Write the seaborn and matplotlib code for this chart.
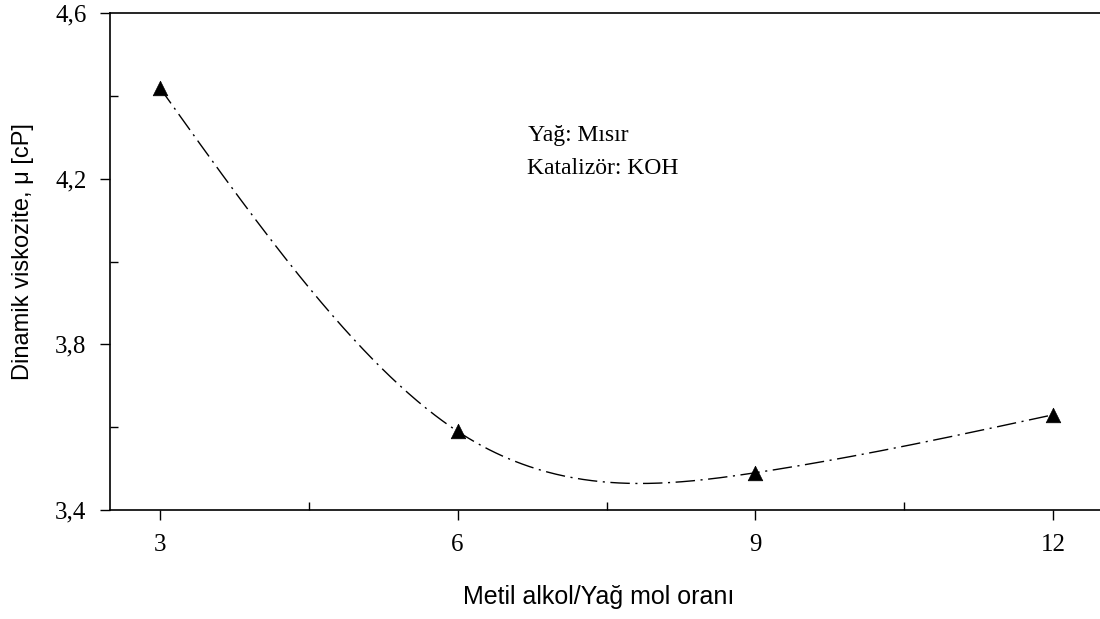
import numpy as np
import pandas as pd
import seaborn as sns
import matplotlib
matplotlib.use("Agg")
import matplotlib.pyplot as plt
from matplotlib.transforms import IdentityTransform
from matplotlib.ticker import FixedLocator, FuncFormatter

# Molar ratio (methanol / oil) and measured dynamic viscosity
molar_ratio = [3, 6, 9, 12]
viscosity_cp = [4.42, 3.59, 3.49, 3.63]

x_ticks = [3, 6, 9, 12]
y_ticks = [3.4, 3.8, 4.2, 4.6]
x_minor = [4.5, 7.5, 10.5]
y_minor = [3.6, 4.0, 4.4]

oil_label = "Yağ: Mısır"
catalyst_label = "Katalizör: KOH"
x_title = "Metil alkol/Yağ mol oranı"
y_title = "Dinamik viskozite, μ [cP]"


def natural_cubic_spline(xs, ys, xnew):
    xs = np.asarray(xs, float)
    ys = np.asarray(ys, float)
    n = len(xs)
    h = np.diff(xs)
    A = np.zeros((n, n))
    r = np.zeros(n)
    A[0, 0] = A[-1, -1] = 1.0
    for i in range(1, n - 1):
        A[i, i - 1] = h[i - 1]
        A[i, i] = 2 * (h[i - 1] + h[i])
        A[i, i + 1] = h[i]
        r[i] = 6 * ((ys[i + 1] - ys[i]) / h[i] - (ys[i] - ys[i - 1]) / h[i - 1])
    M = np.linalg.solve(A, r)
    out = np.empty_like(xnew)
    for k, xv in enumerate(xnew):
        i = min(max(np.searchsorted(xs, xv) - 1, 0), n - 2)
        hi = h[i]
        a = xs[i + 1] - xv
        b = xv - xs[i]
        out[k] = (M[i] * a ** 3 / (6 * hi) + M[i + 1] * b ** 3 / (6 * hi)
                  + (ys[i] / hi - M[i] * hi / 6) * a
                  + (ys[i + 1] / hi - M[i + 1] * hi / 6) * b)
    return out


sns.set_theme(style="white")
plt.rcParams["font.family"] = ["Liberation Serif", "DejaVu Serif"]
plt.rcParams["xtick.labelsize"] = 18
plt.rcParams["ytick.labelsize"] = 18

df = pd.DataFrame({"ratio": molar_ratio, "visc": viscosity_cp})
xs_fine = np.linspace(min(molar_ratio), max(molar_ratio), 400)
curve = pd.DataFrame({"ratio": xs_fine,
                      "visc": natural_cubic_spline(molar_ratio, viscosity_cp, xs_fine)})

fig = plt.figure(figsize=(11, 6.19), dpi=100)
W, H = 1100, 619
left, right, top, bottom = 110, 1103, 13, 510
ax = fig.add_axes([left / W, 1 - bottom / H, (right - left) / W, (bottom - top) / H])

sns.lineplot(data=curve, x="ratio", y="visc", ax=ax, color="black",
             linewidth=1.0, estimator=None)
ax.lines[-1].set_dashes([14, 4, 1.5, 4])
sns.scatterplot(data=df, x="ratio", y="visc", ax=ax, marker="^", s=110,
                color="black", edgecolor="black", linewidth=0.5, zorder=5)

ax.set_xlim(2.5, 12.5)
ax.set_ylim(3.4, 4.6)

for side in ["left", "bottom", "top"]:
    ax.spines[side].set_visible(True)
    ax.spines[side].set_color("black")
    ax.spines[side].set_linewidth(1.2)
ax.spines["right"].set_visible(False)

ax.xaxis.set_major_locator(FixedLocator(x_ticks))
ax.yaxis.set_major_locator(FixedLocator(y_ticks))
ax.xaxis.set_minor_locator(FixedLocator(x_minor))
ax.yaxis.set_minor_locator(FixedLocator(y_minor))
ax.xaxis.set_major_formatter(FuncFormatter(lambda v, p: f"{v:g}"))
ax.yaxis.set_major_formatter(FuncFormatter(lambda v, p: f"{v:.1f}".replace(".", ",")))

ax.tick_params(axis="both", which="major", direction="out", length=7, width=1.0,
               color="black", labelsize=18, labelcolor="black",
               bottom=True, left=True, top=False, right=False)
ax.tick_params(axis="both", which="minor", direction="in", length=6, width=1.0,
               color="black", bottom=True, left=True, top=False, right=False)
ax.tick_params(axis="x", which="major", pad=10)
ax.tick_params(axis="y", which="major", pad=10)
for lbl in ax.get_xticklabels() + ax.get_yticklabels():
    lbl.set_fontsize(18)
    lbl.set_family(["Liberation Serif", "DejaVu Serif"])

ax.set_xlabel(x_title, family=["Liberation Sans", "DejaVu Sans"], fontsize=18,
              color="black")
ax.set_ylabel(y_title, family=["Liberation Sans", "DejaVu Sans"], fontsize=17,
              color="black")
ax.xaxis.set_label_coords(0.492, -0.151)
ax.yaxis.set_label_coords(-0.077, 0.52)

ax.text(528, H - 141, oil_label, transform=IdentityTransform(),
        fontsize=17, color="black")
ax.text(527, H - 174, catalyst_label, transform=IdentityTransform(),
        fontsize=17, color="black")

fig.savefig("out.png", dpi=100, facecolor="white")
